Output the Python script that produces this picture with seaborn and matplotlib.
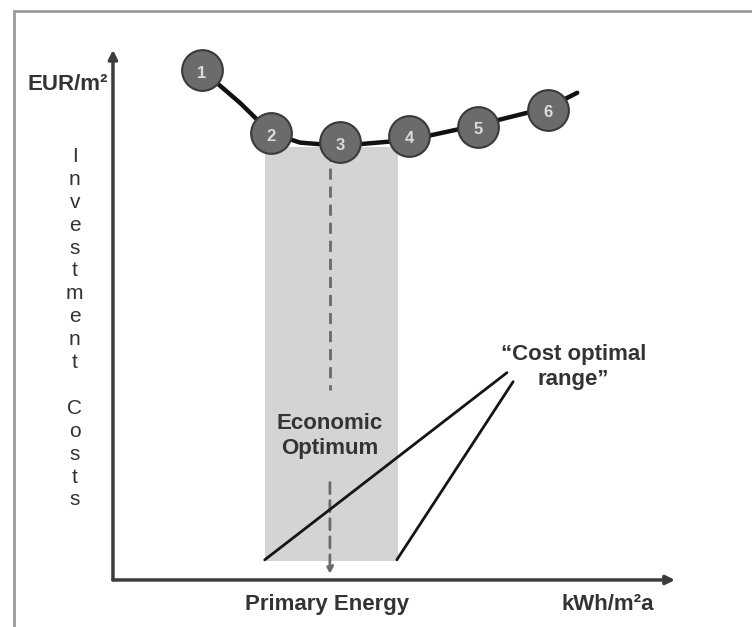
import seaborn as sns
import matplotlib.pyplot as plt
import pandas as pd
from matplotlib.patches import Rectangle

# pontos numerados da curva de custo (esquema, unidades arbitrárias)
variant_labels = ["1", "2", "3", "4", "5", "6"]
variant_energy = [15.8, 28.1, 40.4, 52.7, 64.9, 77.4]
variant_cost = [96.2, 84.3, 82.6, 83.8, 85.5, 88.7]

# traçado da curva
curve_energy = [15.8, 22.6, 28.1, 33.3, 40.4, 52.7, 64.9, 77.4, 82.6]
curve_cost = [96.2, 90.0, 84.3, 82.5, 81.9, 83.0, 85.8, 89.1, 91.9]

# faixa ótima de custo e ótimo econômico
range_start, range_end = 27.0, 50.7
range_bottom, range_top = 3.6, 81.7
optimum_energy = 38.6

sns.set_style("white")
plt.rcParams["font.family"] = ["Liberation Sans", "DejaVu Sans"]

fig = plt.figure(figsize=(7.52, 6.27), dpi=100)
ax = fig.add_axes([0, 0, 1, 1])
ax.set_xlim(-20.1, 113.7)
ax.set_ylim(-8.87, 109.4)
ax.axis("off")

# moldura externa
ax.add_patch(Rectangle((-17.6, -20), 150, 127.4, fill=False,
                       edgecolor="#9a9a9a", lw=2, clip_on=False))

# faixa cinza
ax.add_patch(Rectangle((range_start, range_bottom), range_end - range_start,
                       range_top - range_bottom, facecolor="#d4d4d4",
                       edgecolor="none", zorder=1))

# linha tracejada do ótimo
ax.plot([optimum_energy, optimum_energy], [81.1, 35.8], color="#6a6a6a",
        lw=2, dashes=(4, 2.5), zorder=2)
ax.annotate("", xy=(optimum_energy, 0.6), xytext=(optimum_energy, 18.9),
            arrowprops=dict(arrowstyle="-|>", color="#6a6a6a", lw=2,
                            linestyle=(0, (4, 2.5)), mutation_scale=10),
            zorder=2)

# eixos com setas
ax.annotate("", xy=(0, 100), xytext=(0, 0),
            arrowprops=dict(arrowstyle="-|>", color="#3c3c3c", lw=2.5,
                            mutation_scale=13, shrinkA=0, shrinkB=0))
ax.annotate("", xy=(100, 0), xytext=(0, 0),
            arrowprops=dict(arrowstyle="-|>", color="#3c3c3c", lw=2.5,
                            mutation_scale=13, shrinkA=0, shrinkB=0))

# curva de custo
curve = pd.DataFrame({"energy": curve_energy, "cost": curve_cost})
sns.lineplot(data=curve, x="energy", y="cost", sort=False, color="#111111",
             lw=3.2, ax=ax, zorder=3)

pts = pd.DataFrame({"energy": variant_energy, "cost": variant_cost,
                    "label": variant_labels})
sns.scatterplot(data=pts, x="energy", y="cost", s=860, color="#6b6b6b",
                edgecolor="#3a3a3a", linewidth=1.5, ax=ax, zorder=4)
for _, r in pts.iterrows():
    ax.text(r["energy"], r["cost"] - 0.6, r["label"], ha="center",
            va="center", color="#dcdcdc", fontsize=12, fontweight="bold",
            zorder=5)

# linhas indicadoras da faixa
ax.plot([range_start, 70.1], [3.8, 39.1], color="#151515", lw=2, zorder=3)
ax.plot([range_end - 0.2, 71.2], [3.8, 37.4], color="#151515", lw=2, zorder=3)

# textos
txt = dict(color="#333333", fontweight="bold", fontsize=16, ha="center",
           va="center")
ax.text(optimum_energy, 27.2, "Economic\nOptimum", linespacing=1.25, **txt)
ax.text(81.9, 40.2, "\u201cCost optimal\nrange\u201d", linespacing=1.25, **txt)
ax.text(38.1, -4.7, "Primary Energy", **txt)
ax.text(88.1, -4.7, "kWh/m\u00b2a", **txt)
ax.text(-0.9, 93.4, "EUR/m\u00b2", color="#333333", fontweight="bold",
        fontsize=16, ha="right", va="center")
ax.text(-6.8, 47.5, "\n".join("Investment Costs"), color="#333333",
        fontsize=15, ha="center", va="center", linespacing=1.26)

ax.set_xlabel("")
ax.set_ylabel("")
fig.savefig("out.png", dpi=100)
